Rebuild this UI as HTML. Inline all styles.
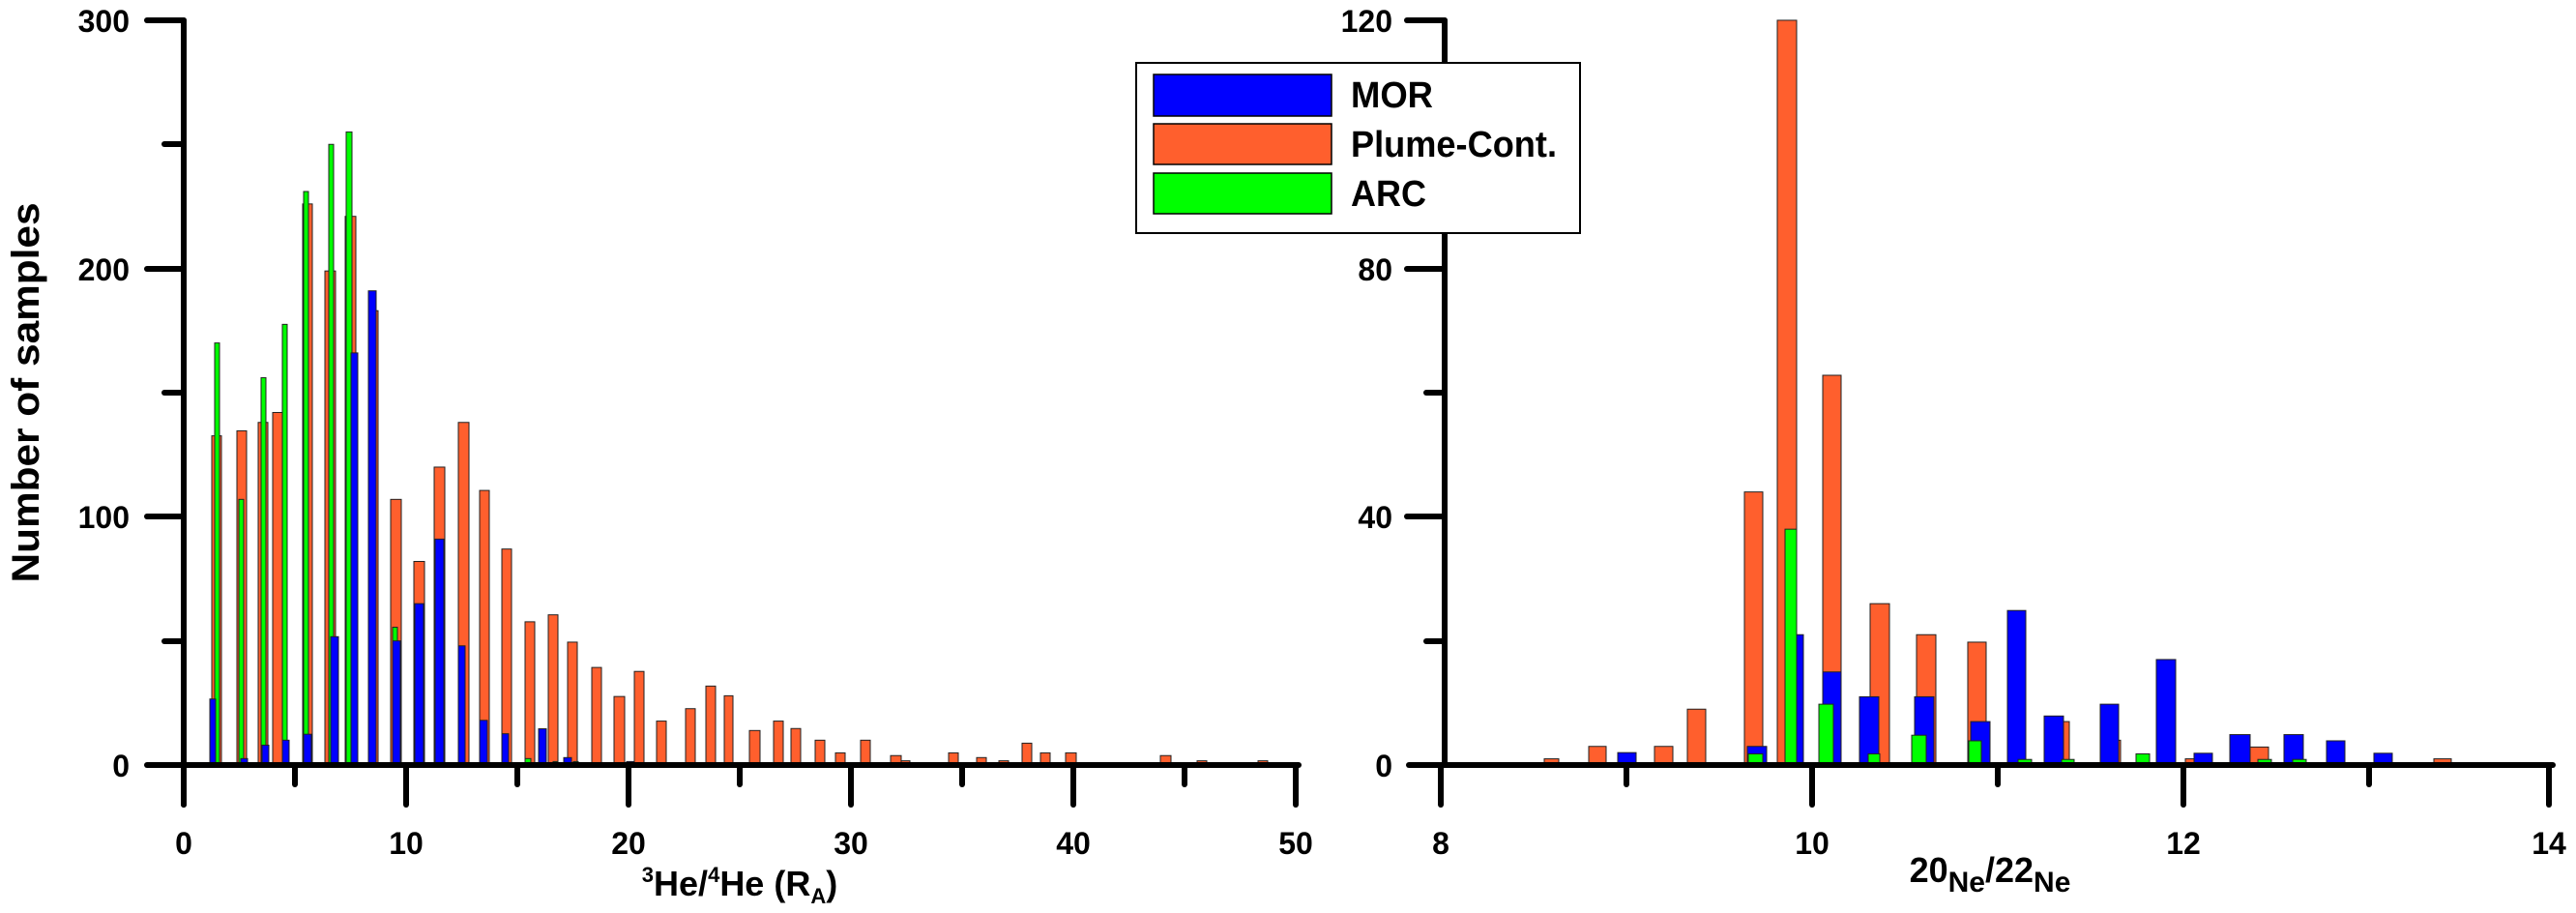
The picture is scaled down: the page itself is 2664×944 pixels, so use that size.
<!DOCTYPE html>
<html><head><meta charset="utf-8"><style>
html,body{margin:0;padding:0;background:#fff;}
svg{display:block;}
text{font-family:"Liberation Sans",Arial,sans-serif;font-weight:bold;fill:#000;}
</style></head><body>
<svg id="s" width="2664" height="944" viewBox="0 0 2664 944" xmlns="http://www.w3.org/2000/svg">
<g id="bars"></g>
<!-- left axes -->
<g stroke="#000" stroke-width="6" stroke-linecap="round">
<line x1="190" y1="21" x2="190" y2="832"/>
<line x1="152" y1="791" x2="1343" y2="791"/>
<line x1="152" y1="21" x2="190" y2="21"/>
<line x1="152" y1="278" x2="190" y2="278"/>
<line x1="152" y1="534" x2="190" y2="534"/>
<line x1="170" y1="149" x2="190" y2="149"/>
<line x1="170" y1="406" x2="190" y2="406"/>
<line x1="170" y1="663" x2="190" y2="663"/>
<line x1="190" y1="791" x2="190" y2="832"/>
<line x1="420" y1="791" x2="420" y2="832"/>
<line x1="650" y1="791" x2="650" y2="832"/>
<line x1="880" y1="791" x2="880" y2="832"/>
<line x1="1110" y1="791" x2="1110" y2="832"/>
<line x1="1340" y1="791" x2="1340" y2="832"/>
<line x1="305" y1="791" x2="305" y2="811"/>
<line x1="535" y1="791" x2="535" y2="811"/>
<line x1="765" y1="791" x2="765" y2="811"/>
<line x1="995" y1="791" x2="995" y2="811"/>
<line x1="1225" y1="791" x2="1225" y2="811"/>
</g>
<g font-size="32" text-anchor="end">
<text x="134" y="33">300</text>
<text x="134" y="290">200</text>
<text x="134" y="546">100</text>
<text x="134" y="803">0</text>
</g>
<g font-size="32" text-anchor="middle">
<text x="190" y="883">0</text>
<text x="420" y="883">10</text>
<text x="650" y="883">20</text>
<text x="880" y="883">30</text>
<text x="1110" y="883">40</text>
<text x="1340" y="883">50</text>
</g>
<text x="40" y="406" font-size="40" text-anchor="middle" transform="rotate(-90 40 406)" textLength="393" lengthAdjust="spacingAndGlyphs">Number of samples</text>
<text x="765" y="926" font-size="36" text-anchor="middle"><tspan font-size="22" dy="-14">3</tspan><tspan dy="14">He/</tspan><tspan font-size="22" dy="-14">4</tspan><tspan dy="14">He (R</tspan><tspan font-size="22" dy="8">A</tspan><tspan dy="-8">)</tspan></text>

<!-- right axes -->
<g stroke="#000" stroke-width="6" stroke-linecap="round">
<line x1="1494" y1="21" x2="1494" y2="791"/>
<line x1="1457" y1="791" x2="2640" y2="791"/>
<line x1="1455" y1="21" x2="1494" y2="21"/>
<line x1="1455" y1="278" x2="1494" y2="278"/>
<line x1="1455" y1="534" x2="1494" y2="534"/>
<line x1="1475" y1="149" x2="1494" y2="149"/>
<line x1="1475" y1="406" x2="1494" y2="406"/>
<line x1="1475" y1="663" x2="1494" y2="663"/>
<line x1="1490" y1="791" x2="1490" y2="832"/>
<line x1="1874" y1="791" x2="1874" y2="832"/>
<line x1="2258" y1="791" x2="2258" y2="832"/>
<line x1="2636" y1="791" x2="2636" y2="832"/>
<line x1="1682" y1="791" x2="1682" y2="811"/>
<line x1="2066" y1="791" x2="2066" y2="811"/>
<line x1="2450" y1="791" x2="2450" y2="811"/>
</g>
<g font-size="32" text-anchor="end">
<text x="1440" y="33">120</text>
<text x="1440" y="290">80</text>
<text x="1440" y="546">40</text>
<text x="1440" y="803">0</text>
</g>
<g font-size="32" text-anchor="middle">
<text x="1490" y="883">8</text>
<text x="1874" y="883">10</text>
<text x="2258" y="883">12</text>
<text x="2636" y="883">14</text>
</g>
<text x="2058" y="912" font-size="36" text-anchor="middle">20<tspan font-size="30" dy="10">Ne</tspan><tspan dy="-10">/22</tspan><tspan font-size="30" dy="10">Ne</tspan></text>

<!-- legend -->
<rect x="1175" y="65" width="459" height="176" fill="#fff" stroke="#000" stroke-width="2"/>
<rect x="1193" y="77" width="184" height="43" fill="#0000ff" stroke="#000" stroke-width="1.5"/>
<rect x="1193" y="128" width="184" height="42" fill="#ff5f2d" stroke="#000" stroke-width="1.5"/>
<rect x="1193" y="179" width="184" height="42" fill="#00ff00" stroke="#000" stroke-width="1.5"/>
<g font-size="38">
<text x="1397" y="111" textLength="85" lengthAdjust="spacingAndGlyphs">MOR</text>
<text x="1397" y="162" textLength="213" lengthAdjust="spacingAndGlyphs">Plume-Cont.</text>
<text x="1397" y="213" textLength="78" lengthAdjust="spacingAndGlyphs">ARC</text>
</g>
</svg>
<script>
var g=document.getElementById('bars');
var O='#ff5f2d',B='#0000ff',G='#00ff00';
function bar(x1,x2,v,c,sc){var h=v*sc;var r=document.createElementNS('http://www.w3.org/2000/svg','rect');
r.setAttribute('x',x1);r.setAttribute('y',791-h);r.setAttribute('width',x2-x1);r.setAttribute('height',h);
r.setAttribute('fill',c);r.setAttribute('stroke','#222');r.setAttribute('stroke-width','1');g.appendChild(r);}
var L=2.567,R=6.417;
// left: [x1,x2,value,color]
var left=[
[219,229,132.6,O],[222,227,170,G],[217,223,26.6,B],
[245,255,134.6,O],[247,252,107,G],[249,256,2.6,B],
[267,277,138,O],[270,275,156,G],[271,278,8,B],
[282,292,142,O],[292,297,177.5,G],[292,299,10,B],
[313,323,226,O],[314,319,231,G],[314,322,12.4,B],
[336,347,199,O],[340,345,250,G],[342,350,51.7,B],
[357,368,221,O],[358,364,255,G],[363,370,166,B],
[382,391,183,O],[381,389,191,B],
[404,415,107,O],[406,411,55.5,G],[406,414,50,B],
[428,439,82,O],[429,438,65,B],
[449,460,120,O],[450,459,91,B],
[474,485,138,O],[474,481,48,B],
[496,506,110.6,O],[496,504,18,B],
[519,529,87,O],[519,526,12.6,B],[515,520,0.6,G],
[543,553,57.7,O],[543,549,2.6,G],
[567,577,60.5,O],[557,565,14.6,B],[572,577,1.4,G],
[587,597,49.5,O],[583,591,3,B],[593,598,1.4,G],
[612,622,39.3,O],[635,646,27.6,O],[648,663,1.4,B],[656,666,37.7,O],
[679,689,17.7,O],[695,704,0.6,G],[709,719,22.7,O],[730,740,31.8,O],[749,758,27.9,O],
[775,786,13.9,O],[800,810,17.7,O],[818,828,14.7,O],[843,853,10,O],[864,874,4.9,O],
[890,900,10,O],[921,932,3.8,O],[932,941,1.7,O],[981,991,4.9,O],[1010,1020,3,O],
[1033,1043,1.7,O],[1057,1067,8.8,O],[1076,1086,4.9,O],[1102,1113,4.9,O],[1131,1141,0.8,O],
[1200,1211,3.8,O],[1238,1248,1.7,O],[1301,1311,1.7,O]];
left.forEach(function(b){bar(b[0],b[1],b[2],b[3],L);});
var right=[
[1597,1612,1,O],[1643,1661,3,O],[1673,1692,2,B],[1711,1730,3,O],[1745,1764,9,O],
[1804,1823,44,O],[1807,1827,3,B],[1808,1823,1.8,G],
[1838,1858,120,O],[1853,1865,21,B],[1846,1858,38,G],
[1885,1904,62.8,O],[1885,1904,15,B],[1881,1896,9.8,G],
[1934,1954,26,O],[1923,1943,11,B],[1932,1944,1.8,G],
[1982,2002,21,O],[1980,2000,11,B],[1977,1992,4.8,G],
[2035,2054,19.8,O],[2038,2058,7,B],[2036,2049,3.9,G],
[2076,2095,24.9,B],[2087,2101,0.9,G],
[2120,2140,7,O],[2114,2134,7.9,B],[2132,2145,0.9,G],
[2178,2193,4,O],[2172,2191,9.8,B],
[2209,2223,1.8,G],[2230,2250,17,B],
[2260,2269,1,O],[2269,2288,1.9,B],
[2327,2346,2.9,O],[2306,2327,4.9,B],[2335,2349,0.9,G],
[2362,2382,4.9,B],[2371,2385,0.9,G],
[2406,2425,3.9,B],[2455,2474,1.9,B],[2517,2535,1,O]];
right.forEach(function(b){bar(b[0],b[1],b[2],b[3],R);});
</script>
</body></html>
